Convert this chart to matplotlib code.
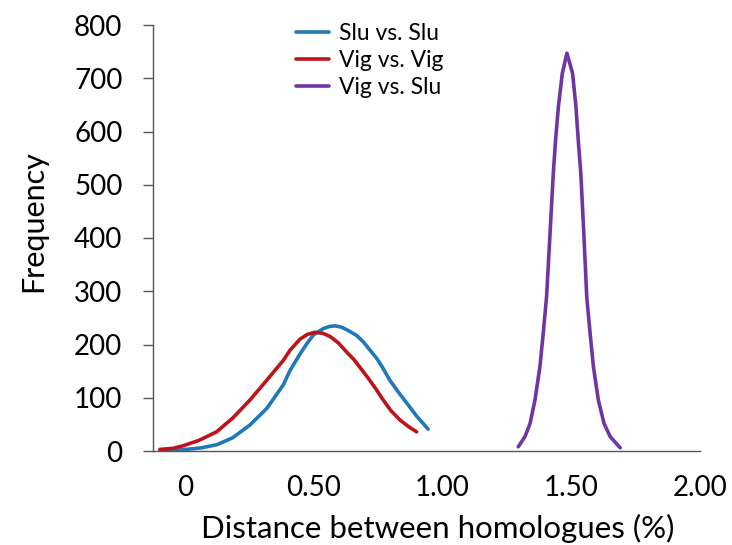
import numpy as np
import matplotlib.pyplot as plt

plt.rcParams['font.family'] = ['Lato', 'DejaVu Sans']

# werte
x_slu = [-0.098, -0.047, 0.003, 0.064, 0.124, 0.185, 0.252, 0.317, 0.381, 0.406,
         0.447, 0.472, 0.498, 0.537, 0.562, 0.582, 0.605, 0.627, 0.666, 0.692,
         0.717, 0.744, 0.764, 0.795, 0.829, 0.861, 0.900, 0.944]
y_slu = [1, 1, 3, 6, 12, 25, 49, 80, 124, 150,
         183, 201, 218, 230, 234, 235, 233, 228, 217, 205,
         190, 174, 159, 133, 110, 90, 65, 41]

x_vig = [-0.098, -0.047, -0.007, 0.054, 0.122, 0.185, 0.252, 0.317, 0.381, 0.407,
         0.446, 0.475, 0.504, 0.535, 0.563, 0.595, 0.627, 0.655, 0.679, 0.706,
         0.739, 0.769, 0.799, 0.835, 0.870, 0.899]
y_vig = [3, 5, 10, 20, 36, 62, 96, 133, 170, 189,
         210, 219, 223, 221, 215, 203, 186, 172, 157, 140,
         118, 96, 76, 58, 45, 36]

x_vs = [1.294, 1.320, 1.340, 1.359, 1.378, 1.391, 1.404, 1.417, 1.430, 1.439,
        1.450, 1.465, 1.483, 1.505, 1.518, 1.527, 1.537, 1.549, 1.560, 1.573,
        1.586, 1.605, 1.627, 1.651, 1.690]
y_vs = [8, 27, 52, 96, 158, 221, 290, 405, 521, 584,
        647, 709, 747, 709, 647, 584, 521, 405, 290, 221,
        158, 96, 52, 27, 6]

xticks = [0, 0.5, 1.0, 1.5, 2.0]
xticklabels = ["0", "0.50", "1.00", "1.50", "2.00"]
yticks = np.arange(0, 801, 100)

fig = plt.figure(figsize=(7.32, 5.45), dpi=100)
ax = fig.add_axes([153/732, 1 - 451/545, 547/732, 426/545])

ax.plot(x_slu, y_slu, color="#1f78b8", lw=2.6, label="Slu vs. Slu", solid_capstyle="round")
ax.plot(x_vig, y_vig, color="#be1419", lw=2.6, label="Vig vs. Vig", solid_capstyle="round")
ax.plot(x_vs, y_vs, color="#7035a2", lw=2.6, label="Vig vs. Slu", solid_capstyle="round")

ax.set_xlim(-0.125, 2.0)
ax.set_ylim(0, 800)
ax.set_xticks(xticks)
ax.set_xticklabels(xticklabels)
ax.set_yticks(yticks)
ax.spines["top"].set_visible(False)
ax.spines["right"].set_visible(False)
for s in ["left", "bottom"]:
    ax.spines[s].set_color("#555555")
    ax.spines[s].set_linewidth(1.0)
ax.tick_params(axis="y", direction="out", length=7, width=1, color="#555555",
               labelsize=20, pad=15)
ax.tick_params(axis="x", length=0, labelsize=20, pad=17)

ax.set_xlabel("Distance between homologues (%)", fontsize=22.5)
ax.set_ylabel("Frequency", fontsize=22)
ax.xaxis.set_label_coords(0.521, -0.148)
ax.yaxis.set_label_coords(-0.194, 0.54)

ax.legend(loc="upper left", bbox_to_anchor=(0.223, 1.054), frameon=False, fontsize=16.5,
          handlelength=1.44, handletextpad=0.45, labelspacing=0.28)

plt.savefig("out.png", dpi=100)
